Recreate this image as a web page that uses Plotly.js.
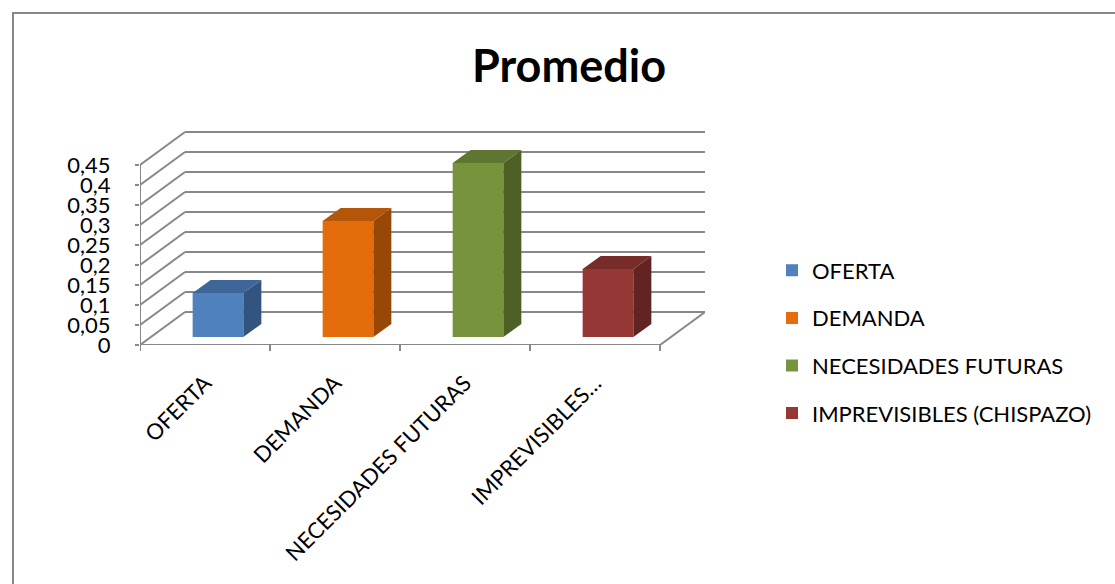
<!DOCTYPE html>
<html><head><meta charset="utf-8">
<script src="https://cdn.plot.ly/plotly-3.0.1.min.js"></script>
<style>html,body{margin:0;padding:0;background:#fff;overflow:hidden}</style>
</head><body><div id="chart" style="width:1115px;height:584px"></div>
<script>
// ---- data ----
const categories = ['OFERTA', 'DEMANDA', 'NECESIDADES FUTURAS', 'IMPREVISIBLES (CHISPAZO)'];
const tickLabels = ['OFERTA', 'DEMANDA', 'NECESIDADES FUTURAS', 'IMPREVISIBLES…'];
const values = [0.11, 0.29, 0.435, 0.17];
const yTickVals = [0, 0.05, 0.1, 0.15, 0.2, 0.25, 0.3, 0.35, 0.4, 0.45];

// ---- styles ----
const colorsFront = ['#4F81BD', '#E46C0A', '#77933C', '#953735'];
const colorsTop = ['#3E6699', '#B3560A', '#5F7630', '#772C2A'];
const colorsSide = ['#33547E', '#974807', '#4D6127', '#622422'];
const gridColor = '#888888';
const FONT = 'Lato, "Open Sans", sans-serif';

// ---- geometry (pixel layout of the oblique 3D frame) ----
const W = 1115, H = 584, L = 140, R = 705, T = 131, B = 345;
const unitX = 130, unitY = 400;
const wallDX = 45 / unitX, wallDY = 33 / unitY;
const barW = 0.39, barDX0 = 13 / unitX, barDY0 = 8 / unitY, barDX = 18 / unitX, barDY = 13 / unitY;
const n = categories.length;
const x0 = -0.5, x1 = n - 0.5;
const xRange = [x0, x0 + (R - L) / unitX];
const yRange = [0, (B - T) / unitY];
const yMaxTick = yTickVals[yTickVals.length - 1];

const shapes = [];
const gl = {color: gridColor, width: 2};
yTickVals.forEach(v => {
  shapes.push({type: 'line', layer: 'below', xref: 'x', yref: 'y', x0: x0 + wallDX, y0: v + wallDY, x1: x1 + wallDX, y1: v + wallDY, line: gl});
  shapes.push({type: 'line', layer: 'below', xref: 'x', yref: 'y', x0: x0, y0: v, x1: x0 + wallDX, y1: v + wallDY, line: gl});
});
// floor right edge
shapes.push({type: 'line', layer: 'below', xref: 'x', yref: 'y', x0: x1, y0: 0, x1: x1 + wallDX, y1: wallDY, line: gl});
// front axes
shapes.push({type: 'line', layer: 'below', xref: 'x', yref: 'y', x0: x0, y0: 0, x1: x0, y1: yMaxTick, line: gl});
shapes.push({type: 'line', layer: 'below', xref: 'x', yref: 'y', x0: x0, y0: 0, x1: x1, y1: 0, line: gl});
// x tick marks at category boundaries
for (let i = 0; i <= n; i++) {
  shapes.push({type: 'line', xref: 'x', yref: 'paper', x0: x0 + i, x1: x0 + i, y0: 0, y1: -6 / (B - T), line: gl});
}
// chart border
shapes.push({type: 'rect', xref: 'paper', yref: 'paper',
  x0: (13 - L) / (R - L), x1: (W + 20 - L) / (R - L),
  y0: (B - (H + 20)) / (B - T), y1: (B - 13) / (B - T),
  line: {color: '#878787', width: 2}});

const traces = [];
// front faces as bars
categories.forEach((c, i) => {
  traces.push({
    type: 'bar', name: c, legendgroup: 'g' + i,
    x: [i + barDX0], y: [values[i]], base: [barDY0], width: [barW],
    marker: {color: colorsFront[i], line: {width: 0}},
    hoverinfo: 'skip'
  });
});
// top and side faces
categories.forEach((c, i) => {
  const xl = i + barDX0 - barW / 2, xr = i + barDX0 + barW / 2;
  const top = values[i] + barDY0;
  traces.push({
    type: 'scatter', mode: 'lines', fill: 'toself', showlegend: false, hoverinfo: 'skip',
    x: [xl, xr, xr + barDX, xl + barDX, xl], y: [top, top, top + barDY, top + barDY, top],
    fillcolor: colorsTop[i], line: {width: 0, color: colorsTop[i]}
  });
  traces.push({
    type: 'scatter', mode: 'lines', fill: 'toself', showlegend: false, hoverinfo: 'skip',
    x: [xr, xr, xr + barDX, xr + barDX, xr], y: [barDY0, top, top + barDY, barDY0 + barDY, barDY0],
    fillcolor: colorsSide[i], line: {width: 0, color: colorsSide[i]}
  });
});

const layout = {
  width: W, height: H,
  margin: {l: L, r: W - R, t: T, b: H - B, pad: 0},
  paper_bgcolor: '#fff', plot_bgcolor: 'rgba(0,0,0,0)',
  separators: ',.',
  barmode: 'overlay',
  font: {family: FONT, color: '#000', size: 22},
  title: {text: 'Promedio', xref: 'container', yref: 'container', x: 569 / W, xanchor: 'center', y: 1 - 66 / H, yanchor: 'middle',
    font: {family: FONT, size: 45, weight: 700, color: '#000'}},
  xaxis: {range: xRange, showgrid: false, zeroline: false, showline: false,
    tickvals: categories.map((c, i) => i), ticktext: tickLabels, tickangle: -45, ticks: '',
    ticklabelstandoff: 20, tickfont: {family: FONT, size: 22, color: '#000'}, fixedrange: true},
  yaxis: {range: yRange, showgrid: false, zeroline: false, showline: false,
    tickvals: yTickVals, ticks: 'outside', ticklen: 4, tickcolor: gridColor, tickwidth: 2,
    ticklabelstandoff: 20, tickfont: {family: FONT, size: 22, color: '#000'}, fixedrange: true},
  showlegend: true,
  legend: {x: (772 - L) / (R - L), xanchor: 'left', y: (B - 342) / (B - T), yanchor: 'middle',
    font: {family: FONT, size: 22, color: '#000'}, tracegroupgap: 16, bgcolor: 'rgba(0,0,0,0)'},
  shapes: shapes
};

Plotly.newPlot('chart', traces, layout, {staticPlot: true, displayModeBar: false});
</script></body></html>
